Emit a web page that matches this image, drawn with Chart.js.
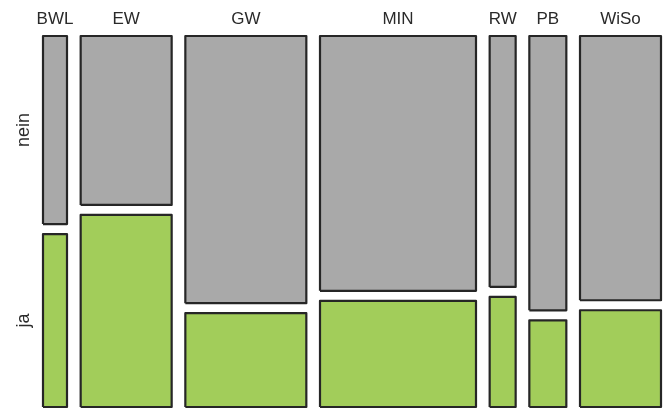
<!DOCTYPE html>
<html>
<head>
<meta charset="utf-8">
<script src="https://cdn.jsdelivr.net/npm/chart.js@4"></script>
<style>
  html, body { margin: 0; padding: 0; background: #fff; }
  #wrap { width: 666px; height: 413px; }
</style>
</head>
<body>
<div id="wrap"><canvas id="c" width="666" height="413"></canvas></div>
<script>
// Faculties (columns), estimated relative group sizes (column widths)
const faculties = ['BWL', 'EW', 'GW', 'MIN', 'RW', 'PB', 'WiSo'];
const facultySize = [24, 91, 121, 156, 26, 37, 81];
// Share of answers within each faculty (%)
const answers = ['ja', 'nein'];
const jaPct   = [47.9, 53.2, 26.0, 29.4, 30.5, 24.0, 26.8];
const neinPct = [52.1, 46.8, 74.0, 70.6, 69.5, 76.0, 73.2];

// Layout (spacing between tiles, in axis units) and styling
const COL_GAP = 13.67;
const ROW_GAP = 2.77;
const answerColors = { ja: '#A2CD5A', nein: '#A9A9A9' };
const BORDER = '#262626';

// Build tiles from the data
const xStarts = [];
let acc = 0;
facultySize.forEach((s, i) => { xStarts.push(acc); acc += s + (i < facultySize.length - 1 ? COL_GAP : 0); });
const xMax = acc;
const yMax = 100 + ROW_GAP;
const xCenters = facultySize.map((s, i) => xStarts[i] + s / 2);

const common = { showLine: true, pointRadius: 0, tension: 0, clip: false };
const fills = [], outlines = [];
function addTile(label, x0, x1, y0, y1, color) {
  // filled area: top edge from x0 to x1, filled down to y0
  fills.push(Object.assign({
    label: label,
    data: [{x: x0, y: y1}, {x: x1, y: y1}],
    backgroundColor: color, borderWidth: 0, borderColor: 'rgba(0,0,0,0)',
    fill: { value: y0 }
  }, common));
  // outline of the tile
  outlines.push(Object.assign({
    label: label + ' (Rand)',
    data: [{x: x0, y: y0}, {x: x0, y: y1}, {x: x1, y: y1}, {x: x1, y: y0}, {x: x0, y: y0}],
    borderColor: BORDER, borderWidth: 2.2, borderJoinStyle: 'round', fill: false
  }, common));
}
faculties.forEach((f, i) => {
  const x0 = xStarts[i], x1 = xStarts[i] + facultySize[i];
  const neinBottom = jaPct[i] + ROW_GAP;
  addTile(f + ' – ja', x0, x1, 0, jaPct[i], answerColors.ja);
  addTile(f + ' – nein', x0, x1, neinBottom, neinBottom + neinPct[i], answerColors.nein);
});
// outlines first so that Chart.js paints them on top of the fills
const datasets = outlines.concat(fills);

const yTickVals = [jaPct[0] / 2, jaPct[0] + ROW_GAP + neinPct[0] / 2];

new Chart(document.getElementById('c'), {
  type: 'scatter',
  data: { datasets },
  options: {
    responsive: false,
    animation: false,
    events: [],
    layout: { padding: { left: 0, right: 5, top: 0, bottom: 6 } },
    plugins: { legend: { display: false }, tooltip: { enabled: false } },
    scales: {
      x: {
        type: 'linear', position: 'top', min: 0, max: xMax,
        grid: { display: false }, border: { display: false },
        afterBuildTicks: (s) => { s.ticks = xCenters.map(v => ({ value: v })); },
        afterFit: (s) => { s.height = 36; },
        ticks: {
          autoSkip: false, maxRotation: 0, minRotation: 0, padding: -2,
          color: '#2a2a2a', font: { family: 'Liberation Sans, Arial, sans-serif', size: 17 },
          callback: (v, i) => faculties[i]
        }
      },
      y: {
        type: 'linear', position: 'left', min: 0, max: yMax,
        grid: { display: false }, border: { display: false },
        afterBuildTicks: (s) => { s.ticks = yTickVals.map(v => ({ value: v })); },
        afterFit: (s) => { s.width = 43; },
        ticks: {
          autoSkip: false, minRotation: 90, maxRotation: 90, padding: -6, crossAlign: 'center',
          color: '#2a2a2a', font: { family: 'Liberation Sans, Arial, sans-serif', size: 18 },
          callback: (v, i) => answers[i]
        }
      }
    }
  }
});
</script>
</body>
</html>
